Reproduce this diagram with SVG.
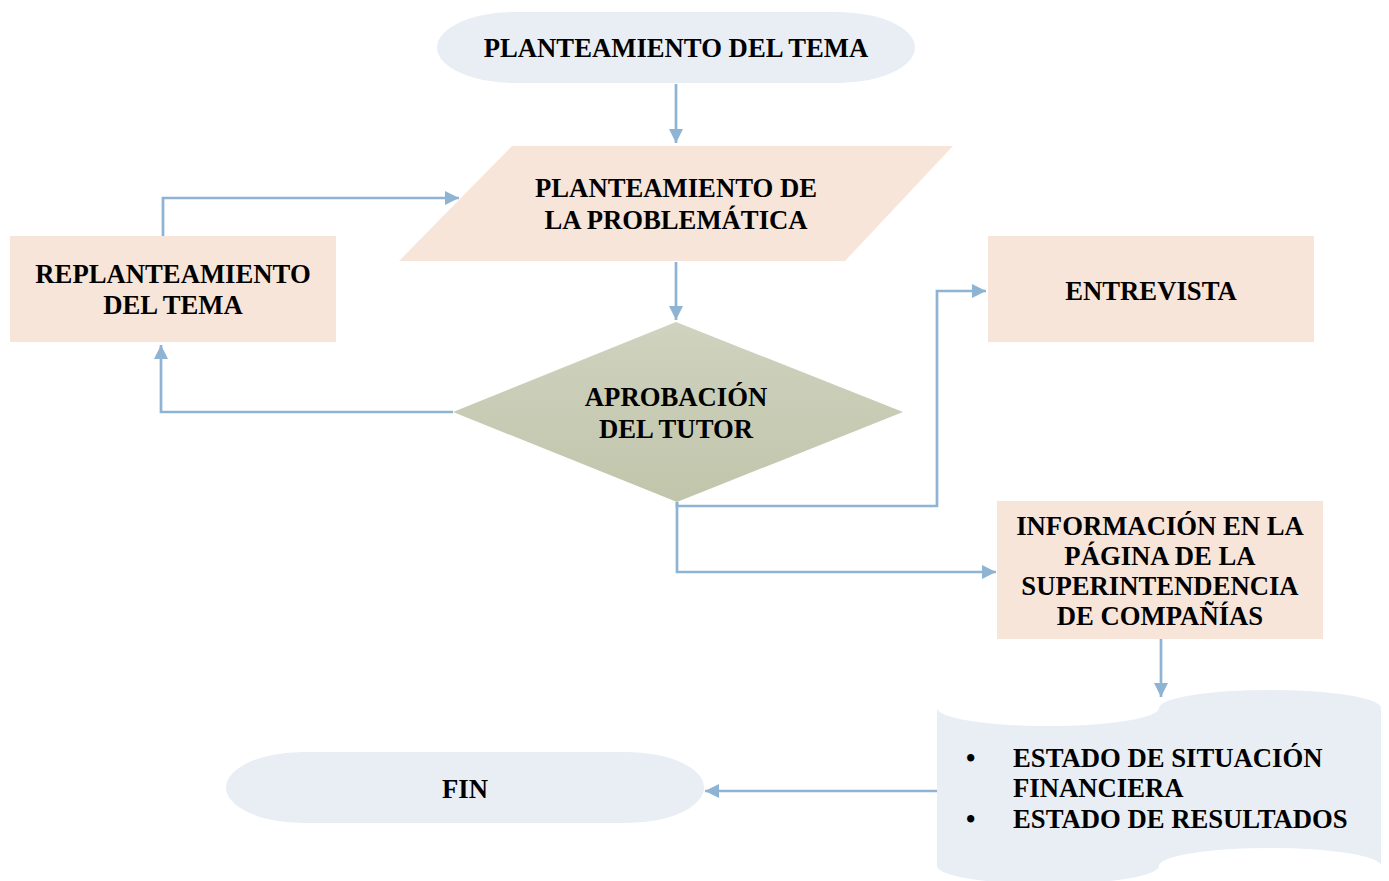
<svg xmlns="http://www.w3.org/2000/svg" width="1389" height="881" viewBox="0 0 1389 881">
<style>
.t{font-family:"Liberation Serif","Times New Roman",serif;font-weight:bold;font-size:26.7px;fill:#000;text-anchor:middle}
.tl{font-family:"Liberation Serif","Times New Roman",serif;font-weight:bold;font-size:26.7px;fill:#000}
.term{fill:#e9eef5}
.peach{fill:#f8e5da}
.con{fill:none;stroke:#8fb3d3;stroke-width:2.7}
</style>
<defs>
<marker id="ah" markerUnits="userSpaceOnUse" markerWidth="16" markerHeight="16" refX="14" refY="7" orient="auto">
<path d="M0,0 L14,7 L0,14 Z" fill="#8fb3d3"/>
</marker>
<linearGradient id="olive" x1="0" y1="0" x2="0" y2="1">
<stop offset="0" stop-color="#cfd3bf"/>
<stop offset="1" stop-color="#c1c5ab"/>
</linearGradient>
</defs>
<rect width="1389" height="881" fill="#fff"/>
<g id="connectors">
<path class="con" d="M676,84 V143" marker-end="url(#ah)"/>
<path class="con" d="M676,262 V320" marker-end="url(#ah)"/>
<path class="con" d="M453,412 H161 V345" marker-end="url(#ah)"/>
<path class="con" d="M163,236 V198 H459" marker-end="url(#ah)"/>
<path class="con" d="M677,502 V506 H937 V291 H986" marker-end="url(#ah)"/>
<path class="con" d="M677,502 V572 H996" marker-end="url(#ah)"/>
<path class="con" d="M1161,639 V697" marker-end="url(#ah)"/>
<path class="con" d="M937,791 H705" marker-end="url(#ah)"/>
</g>
<g id="n-inicio">
<rect class="term" x="437" y="12" width="478" height="71" rx="77" ry="35.5"/>
<text class="t" x="676" y="57">PLANTEAMIENTO DEL TEMA</text>
</g>
<g id="n-problematica">
<polygon class="peach" points="512,146 953,146 845,261 399,261"/>
<text class="t" x="676" y="197">PLANTEAMIENTO DE</text>
<text class="t" x="676" y="229">LA PROBLEMÁTICA</text>
</g>
<g id="n-aprobacion">
<polygon fill="url(#olive)" points="676,322 903,412 677,502 453,412"/>
<text class="t" x="676" y="406">APROBACIÓN</text>
<text class="t" x="676" y="438">DEL TUTOR</text>
</g>
<g id="n-replanteamiento">
<rect class="peach" x="10" y="236" width="326" height="106"/>
<text class="t" x="173" y="283">REPLANTEAMIENTO</text>
<text class="t" x="173" y="314">DEL TEMA</text>
</g>
<g id="n-entrevista">
<rect class="peach" x="988" y="236" width="326" height="106"/>
<text class="t" x="1151" y="300">ENTREVISTA</text>
</g>
<g id="n-informacion">
<rect class="peach" x="997" y="501" width="326" height="138"/>
<text class="t" x="1160" y="535">INFORMACIÓN EN LA</text>
<text class="t" x="1160" y="565">PÁGINA DE LA</text>
<text class="t" x="1160" y="595">SUPERINTENDENCIA</text>
<text class="t" x="1160" y="625">DE COMPAÑÍAS</text>
</g>
<g id="n-estados">
<path class="term" d="M937,708 A111,18 0 0 0 1159,708 A111,18 0 0 1 1381,708 L1381,866 A111,18 0 0 0 1159,866 A111,18 0 0 1 937,866 Z"/>
<text class="tl" x="966" y="767">•</text>
<text class="tl" x="1013" y="767">ESTADO DE SITUACIÓN</text>
<text class="tl" x="1013" y="797">FINANCIERA</text>
<text class="tl" x="966" y="828">•</text>
<text class="tl" x="1013" y="828">ESTADO DE RESULTADOS</text>
</g>
<g id="n-fin">
<rect class="term" x="226" y="752" width="478" height="71" rx="77" ry="35.5"/>
<text class="t" x="465" y="798">FIN</text>
</g>
</svg>
